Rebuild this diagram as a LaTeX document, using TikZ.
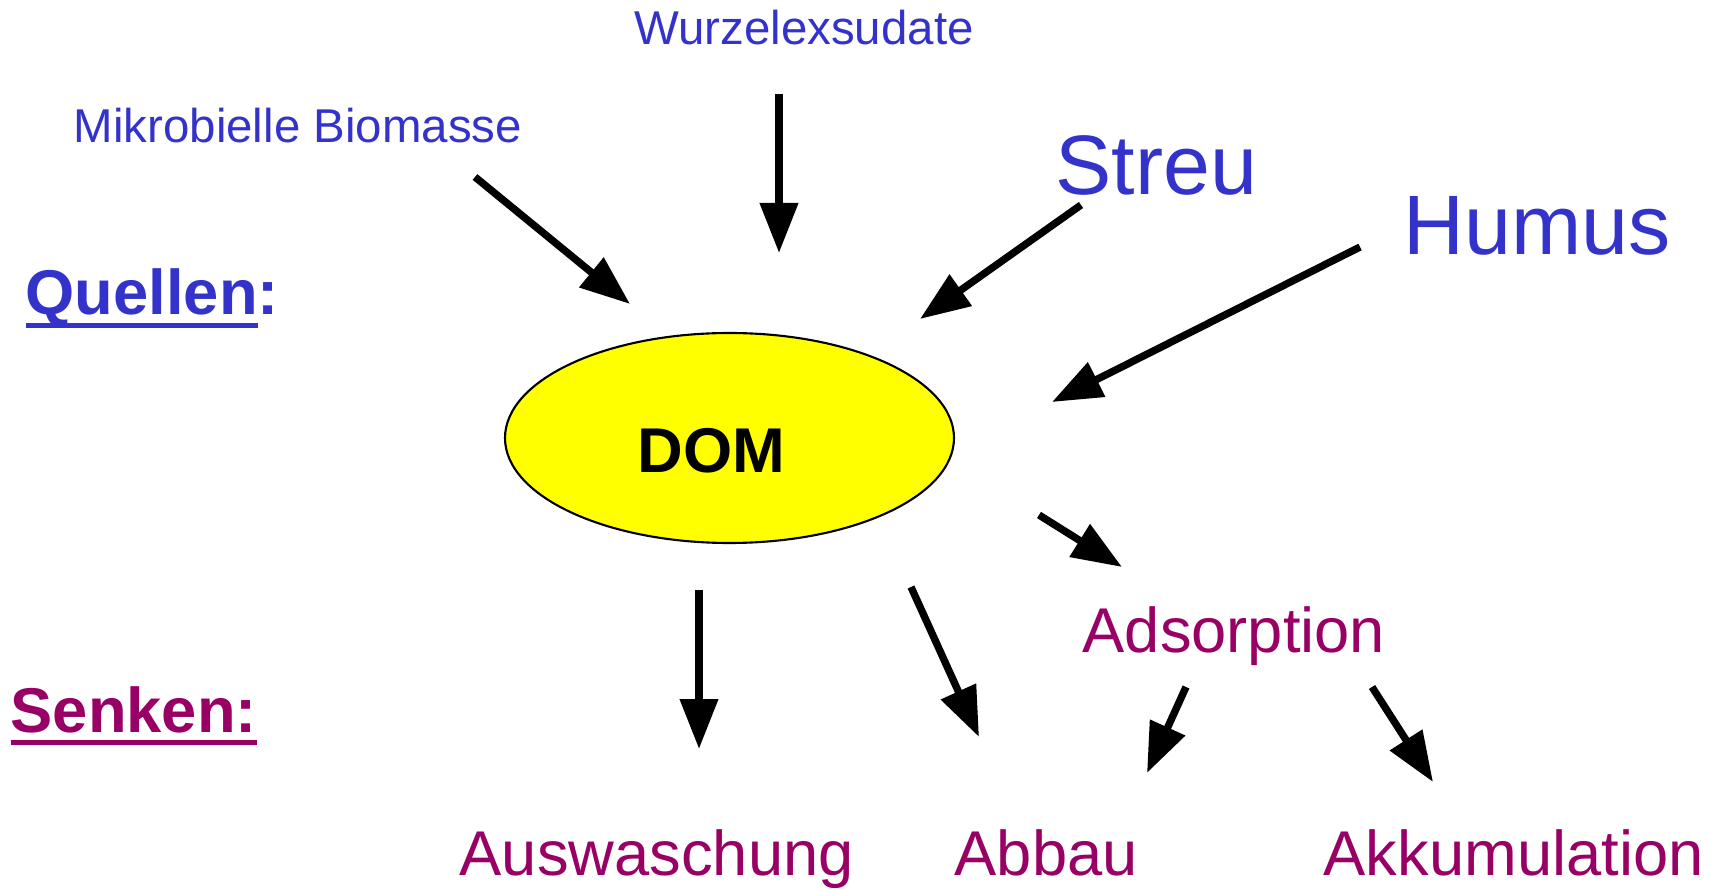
\documentclass[tikz,border=0pt]{standalone}
\usepackage{fontspec}
\setmainfont{Liberation Sans}
\usetikzlibrary{arrows.meta,shapes.geometric}
\definecolor{qblau}{RGB}{51, 51, 204}
\definecolor{slila}{RGB}{153, 0, 102}
\definecolor{domgelb}{RGB}{255, 255, 0}
\newcommand{\schrift}[1]{\fontsize{#1}{#1}\selectfont}
\newcommand{\strich}[1]{\setbox0=\hbox{#1}\rlap{\rule[-0.13cm]{\wd0}{0.05cm}}\box0}

\begin{document}
\begin{tikzpicture}[>={Triangle[length=0.5cm,width=0.37cm]},
    quelle/.style={text=qblau, inner sep=0pt, anchor=base west},
    senke/.style={text=slila, inner sep=0pt, anchor=base west},
    pfeil/.style={->, line width=2.1pt, black}]

    \useasboundingbox (0,0) rectangle (17.21,8.89);

    % --- DOM ---
    \node[ellipse, draw, line width=0.6pt, fill=domgelb,
          minimum width=4.49cm, minimum height=2.10cm] (dom) at (7.295,4.51) {};
    \node[anchor=base, inner sep=0pt, font=\schrift{18}\bfseries] (domtext) at (7.115,4.16) {DOM};

    % --- Quellen ---
    \node[quelle, font=\schrift{18}\bfseries] (quellen) at (0.25,5.74) {\strich{Quellen}:};
    \node[quelle, font=\schrift{13.5}] (mikro) at (0.73,7.46) {Mikrobielle Biomasse};
    \node[quelle, font=\schrift{13.5}, anchor=base] (wurzel) at (8.04,8.44) {Wurzelexsudate};
    \node[quelle, font=\schrift{24}] (streu) at (10.55,6.94) {Streu};
    \node[quelle, font=\schrift{24}] (humus) at (14.03,6.34) {Humus};

    % --- Senken ---
    \node[senke, font=\schrift{18}\bfseries] (senken) at (0.10,1.57) {\strich{Senken:}};
    \node[senke, font=\schrift{18}] (adsorption) at (10.82,2.37) {Adsorption};
    \node[senke, font=\schrift{18}] (auswaschung) at (4.59,0.14) {Auswaschung};
    \node[senke, font=\schrift{18}] (abbau) at (9.54,0.14) {Abbau};
    \node[senke, font=\schrift{18}] (akku) at (13.23,0.14) {Akkumulation};

    % --- Pfeilenden ---
    \coordinate (mb1) at (4.75,7.12);   \coordinate (mb2) at (6.30,5.85);
    \coordinate (wz1) at (7.79,7.95);   \coordinate (wz2) at (7.79,6.36);
    \coordinate (st1) at (10.81,6.84);  \coordinate (st2) at (9.20,5.70);
    \coordinate (hu1) at (13.60,6.42);  \coordinate (hu2) at (10.52,4.87);
    \coordinate (ad1) at (10.39,3.74);  \coordinate (ad2) at (11.22,3.22);
    \coordinate (au1) at (6.99,2.99);   \coordinate (au2) at (6.99,1.40);
    \coordinate (ab1) at (9.11,3.02);   \coordinate (ab2) at (9.79,1.52);
    \coordinate (aa1) at (11.86,2.02);  \coordinate (aa2) at (11.47,1.16);
    \coordinate (ak1) at (13.72,2.02);  \coordinate (ak2) at (14.33,1.07);

    % --- Pfeile ---
    \draw[pfeil] (mb1) -- (mb2);
    \draw[pfeil] (wz1) -- (wz2);
    \draw[pfeil] (st1) -- (st2);
    \draw[pfeil] (hu1) -- (hu2);
    \draw[pfeil] (ad1) -- (ad2);
    \draw[pfeil] (au1) -- (au2);
    \draw[pfeil] (ab1) -- (ab2);
    \draw[pfeil] (aa1) -- (aa2);
    \draw[pfeil] (ak1) -- (ak2);

\end{tikzpicture}
\end{document}
